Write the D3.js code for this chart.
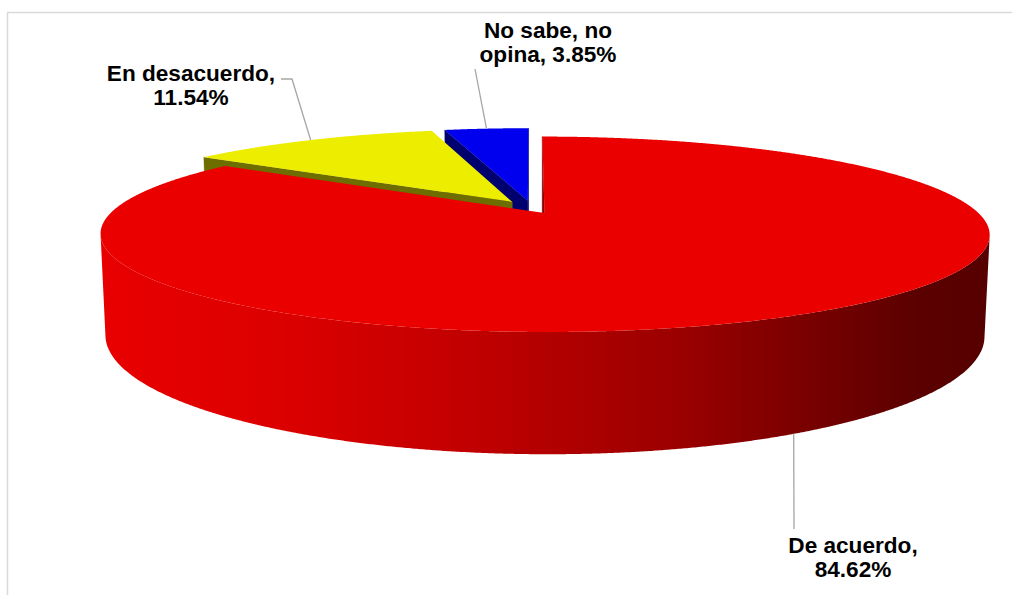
<!DOCTYPE html>
<html>
<head>
<meta charset="utf-8">
<script src="https://cdn.jsdelivr.net/npm/d3@7"></script>
<style>
  html, body { margin: 0; padding: 0; background: #ffffff; }
  svg { display: block; }
  .lbl { font-family: "Liberation Sans", Arial, sans-serif; font-weight: bold; font-size: 22.6px; fill: #000; }
</style>
</head>
<body>
<svg id="chart" width="1012" height="595"></svg>
<script>
// Survey answers and their shares (%)
const categories = ["De acuerdo", "En desacuerdo", "No sabe, no opina"];
const values = [84.62, 11.54, 3.85];
const labelLines = [
  ["De acuerdo,", "84.62%"],
  ["En desacuerdo,", "11.54%"],
  ["No sabe, no", "opina, 3.85%"]
];

// Styling and 3D view setup
const topColors = ["#eb0000", "#eded00", "#0000ee"];
const wallColors = ["url(#redSide)", "#6e6e00", "#00006e"];
const cutColors = ["#8a0000", "#6e6e00", "#00006e"];
const explode = [0.062, 0.082, 0.082];
const view = { cx: 532, cy: 208, f: 1952, D: 4.552, tilt: Math.asin(0.212), depth: 0.232 };
// Label layout: text centre, first baseline, leader polyline from label towards slice
const labelLayout = [
  { x: 853, y: 553, leader: [[794, 529]], rim: "bottom" },
  { x: 191, y: 81, leader: [[281, 79], [292, 79]], rim: "top" },
  { x: 548, y: 38, leader: [[475, 69]], rim: "top" }
];

const svg = d3.select("#chart");

// chart-area frame
svg.append("path")
  .attr("d", "M7.5,600 L7.5,12.5 L1012,12.5")
  .attr("fill", "none").attr("stroke", "#d9d9d9").attr("stroke-width", 1.5);

const defs = svg.append("defs");
const grad = defs.append("linearGradient").attr("id", "redSide")
  .attr("gradientUnits", "userSpaceOnUse").attr("x1", 104).attr("x2", 993).attr("y1", 0).attr("y2", 0);
[[0, "#e80000"], [0.2, "#dc0000"], [0.42, "#c00000"], [0.65, "#9a0000"], [0.82, "#720000"], [0.92, "#5a0000"], [1, "#560000"]]
  .forEach(([o, c]) => grad.append("stop").attr("offset", o).attr("stop-color", c));

const sinA = Math.sin(view.tilt), cosA = Math.cos(view.tilt);
function proj(u, v, w) {
  const z = view.D + v * cosA - w * sinA;
  return [view.cx + view.f * u / z, view.cy - view.f * (v * sinA + w * cosA) / z];
}

const pie = d3.pie().sort(null).startAngle(0).endAngle(2 * Math.PI);
const arcs = pie(values).map((a, i) => {
  const mid = (a.startAngle + a.endAngle) / 2;
  return { ...a, i, mid, cu: explode[i] * Math.sin(mid), cv: explode[i] * Math.cos(mid) };
});

const rim = (s, t, w) => proj(s.cu + Math.sin(t), s.cv + Math.cos(t), w);
const centre = (s, w) => proj(s.cu, s.cv, w);
function samples(a0, a1) {
  const n = Math.max(2, Math.ceil((a1 - a0) / 0.004));
  return d3.range(n + 1).map(k => a0 + (a1 - a0) * k / n);
}
const line = pts => "M" + pts.map(p => p[0].toFixed(2) + "," + p[1].toFixed(2)).join("L") + "Z";
const camera = [0, -view.D * cosA, view.D * sinA];
const faces = (n, p) => n[0] * (camera[0] - p[0]) + n[1] * (camera[1] - p[1]) + n[2] * (camera[2] - p[2]) > 0;

// paint from the far slices to the near ones
const order = arcs.slice().sort((a, b) => b.cv - a.cv);
const h = -view.depth;

order.forEach(s => {
  const g = svg.append("g");
  const base = [s.cu, s.cv, 0];
  // cut faces along each radius
  [[s.startAngle, -1], [s.endAngle, 1]].forEach(([t, sgn]) => {
    const n = [sgn * Math.cos(t), -sgn * Math.sin(t), 0];
    if (!faces(n, base)) return;
    g.append("path")
      .attr("d", line([centre(s, 0), rim(s, t, 0), rim(s, t, h), centre(s, h)]))
      .attr("fill", cutColors[s.i]).attr("stroke", cutColors[s.i]).attr("stroke-width", 0.4);
  });
  // curved outer wall, only where it faces the viewer
  const ts = samples(s.startAngle, s.endAngle);
  const vis = ts.map(t => faces([Math.sin(t), Math.cos(t), 0], [s.cu + Math.sin(t), s.cv + Math.cos(t), 0]));
  let run = [];
  const flush = () => {
    if (run.length > 1) {
      const pts = run.map(t => rim(s, t, 0)).concat(run.slice().reverse().map(t => rim(s, t, h)));
      g.append("path").attr("d", line(pts)).attr("fill", wallColors[s.i]);
    }
    run = [];
  };
  ts.forEach((t, k) => { if (vis[k]) run.push(t); else flush(); });
  flush();
  // top face
  g.append("path")
    .attr("d", line([centre(s, 0)].concat(ts.map(t => rim(s, t, 0)))))
    .attr("fill", topColors[s.i]);
});

// data labels with leader lines
arcs.forEach(s => {
  const L = labelLayout[s.i];
  const anchor = rim(s, s.mid, L.rim === "bottom" ? h : 0);
  const pts = L.leader.concat([anchor]);
  svg.append("path")
    .attr("d", "M" + pts.map(p => p.join(",")).join("L"))
    .attr("fill", "none").attr("stroke", "#a6a6a6").attr("stroke-width", 1.3);
  const txt = svg.append("text").attr("class", "lbl").attr("text-anchor", "middle");
  labelLines[s.i].forEach((ln, k) => {
    txt.append("tspan").attr("x", L.x).attr("y", L.y + k * 24).text(ln);
  });
});
</script>
</body>
</html>
